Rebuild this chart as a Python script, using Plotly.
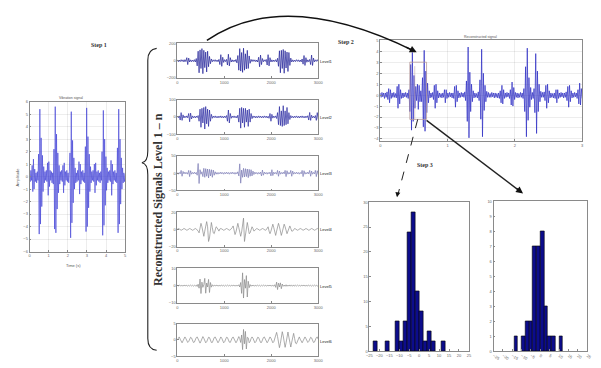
import plotly.graph_objects as go

W, H = 601, 368


def fx(px):
    return px / W


def fy(py):
    return 1 - py / H


# ---------------- data ----------------
# Step 1: raw vibration signal (amplitude), sampled over 0..5 s
raw_signal = [
    0.2, -0.4, 0.5, -0.3, 0.9, -1.2, 1.4, -1.0, 0.6, -0.4,
    0.3, -0.5, 0.4, -0.3, 1.8,
    -4.6, 5.4, -3.8, 3.1, -2.4, 1.7, -1.2, 0.8, -0.5, 0.4,
    -0.3, 0.5, -0.4, 1.1, -1.5, 1.2, -0.8, 0.5, -0.3, 0.4,
    -0.5, 0.3, -0.6, 2.2, -4.2,
    5.6, -4.5, 3.4, -2.6, 1.9, -1.3, 0.9, -0.6, 0.4, -0.3,
    0.5, -0.4, 0.9, -1.3, 1.1, -0.7, 0.4, -0.3, 0.5, -0.4,
    0.3, -0.5, 0.4, 1.9, -4.9, 5.2, -3.7, 2.9, -2.1, 1.5,
    -1.0, 0.7, -0.5, 0.3, -0.4, 0.5, -0.3, 1.2, -1.4, 1.0,
    -0.6, 0.4, -0.3, 0.5, -0.4, 0.3, -0.5, 2.4, -4.4, 5.5,
    -4.0, 3.2, -2.5, 1.8, -1.2, 0.8, -0.5, 0.4, -0.3, 0.5,
    -0.4, 1.0, -1.3, 1.1, -0.7, 0.4, -0.3, 0.5, -0.4, 0.3,
    -0.5, 0.4, -0.3, 2.0, -4.7, 5.3, -3.9, 3.0, -2.3, 1.6,
    -1.1, 0.7, -0.5, 0.4, -0.3, 0.5, -0.4, 1.3, -1.5, 1.0,
    -0.6, 0.4, -0.3, 0.5, -0.4, 0.3, -0.5, 2.3, -4.5, 5.4,
    -3.8, 3.0, -2.2, 1.5, -1.0, 0.7, -0.5, 0.3, -0.4, 0.2,
]

# Reconstructed signals, levels 1..6
level1 = [
    10, -12, 8, -10, 12, -8, 10, -14, 12, -10,
    35, -45, 30, -15,
    10, -12, 8, -10, 12, -15, 25,
    -60, 110, -140, 125, -90, 140, -150, 120, -80, 100, -130, 110, -70, 50, -35, 20, -12,
    10, -8, 12, -10, 8, -12, 15,
    -45, 70, -65, 40, -20,
    12, -10, 15,
    -50, 75, -60, 35, -15,
    10, -12, 8, -10, 14, -25,
    60, -110, 140, -120, 95, -135, 145, -110, 80, -95, 120, -90, 55, -30, 15,
    -10, 12, -8, 10, -12, 8, -15,
    40, -70, 65, -45, 25, -12,
    10, -8, 15,
    -50, 70, -60, 35, -15,
    10, -12, 8, -10, 12, -14, 28,
    -65, 115, -140, 120, -90, 130, -145, 115, -85, 100, -125, 95, -55, 30, -15,
    10, -12, 8, -10, 12, -8, 10, -12, 8, -14, 20,
    -40, 60, -55, 35, -18, 10,
    -12, 15,
    -45, 65, -55, 30, -14,
    10, -8, 12, -10,
]
level2 = [
    4, -5, 6,
    -18, 25, -20, 12, -6,
    5, -4, 6, -5,
    20, -28, 22, -12, 6,
    -5, 4, -6, 5, -4, 8,
    -25, 45, -60, 50, -35, 55, -70, 60, -40, 45, -55, 40, -25, 15, -8, 5,
    -4, 6, -5, 4, -6, 5, -4, 6, -5, 4, -6, 5, -4, 8,
    -25, 40, -35, 20, -8,
    5, -4, 6, -5, 4, -6, 10,
    -30, 50, -65, 55, -35, 50, -60, 50, -30, 40, -55, 45, -30, 20, -10, 6, -4, 5,
    -6, 4, -5, 6, -4, 5, -6, 4, -5, 6, -4, 5, -6, 4, -8,
    20, -25, 15, -7,
    5, -4, 6, -9,
    25, -45, 60, -50, 35, -55, 65, -50, 35, -45, 55, -40, 25, -15, 8, -5, 4,
    -6, 5, -4, 6, -5, 4, -6, 5, -4, 6, -5, 4, -6, 5, -4, 7,
    -18, 26, -20, 10, -5,
    4, -6, 8,
    -20, 25, -15,
]
level3 = [
    2, -3, 2, -2,
    8, -9, 5,
    -2, 3, -2, 2, -3,
    8, -10, 7, -3,
    2, -2, 3, -2, 2,
    -6, 28, -30, 10,
    -3, 4,
    -10, 14, -12, 13, -9, 12, -14, 11, -8, 10, -12, 9, -6, 4, -3,
    2, -3, 2, -2, 3, -2, 2, -3, 2, -2, 3, -2, 2, -3, 2, -2, 3, -2, 2, -3, 2, -2, 4,
    -8, 27, -29, 9,
    -12, 14, -11, 13, -10, 12, -13, 11, -9, 10, -8, 6, -4, 3,
    -2, 2, -3, 2, -2, 3,
    -8, 9, -6, 3,
    -2, 2, -3, 2, -2, 3,
    -8, 10, -7, 3,
    -2, 2, -3,
    8, -9, 6, -3,
    2, -2, 3, -2,
    8, -10, 7, -3,
    2, -2,
    8, -9, 6, -3,
    2, -2, 3, -2, 2, -3, 2, -2,
    8, -10, 7, -3,
    2, -2, 3, -2,
    8, -9, 6, -3,
    2, -2,
    8, -10, 7, -4,
]
level4 = [
    0.5, 1, 0.5, -0.5, -1, -0.5, 0.5, 1, 0.5, -0.5, -1, -0.5, 0.5, 1, 0.5, -0.5, -1, -0.5, 0.5, 1, 0.5, -0.5,
    -2, -4, 2, 7, 3, -6, -8, -2, 6, 9, 3, -14, -10, 5, 8, 2, -4,
    -5, -1, 3, 2, -1, -2, 0.5, 1, 0.5, -0.5, -1, -0.5, 0.5, 1, 0.5, -0.5, -1, -0.5, 0.5,
    2, 4, -2, -6, -3, 5, 7, 2, -5, -8, -3, 6, 13, -14, -6, 6, 8, 2, -5, -4, 1,
    3, 1, -2, -1, 0.5, 1, 0.5, -0.5, -1, -0.5, 0.5, 1, 0.5, -0.5, -1, -0.5, 1,
    3, -2, -5, -2, 4, 6, 2, -5, -7, -2, 5, 7, 3, -4, -7, -3, 4, 6, 3, -3, -5, -2, 3, 4, 1, -2, -2, 0.5,
    1, 0.5, -0.5, -1, -0.5, 0.5, 1, 0.5, -0.5, -1, -0.5, 0.5, 1, 0.5, -0.5, -1, -0.5, 0.5, 1, 0.5, -0.5, -1, -0.5, 0.5, 1, 0.5,
]
level5 = [
    0.2, -0.2, 0.3, -0.2, 0.2, -0.3, 0.2, -0.2, 0.3, -0.2, 0.2, -0.3, 0.2, -0.2, 0.3, -0.2, 0.2, -0.3, 0.2, -0.2, 0.3, -0.5, 0.8,
    -1.5, 3.8, -4.6, 2.0, -1.0, 0.5, 4.2, -4.4, 1.5, -0.8, 3.6, -4.0, 1.8, -0.9, 0.5, -0.3, 0.2,
    -0.2, 0.3, -0.2, 0.2, -0.3, 0.2, -0.2, 0.3, -0.2, 0.2, -0.3, 0.2, -0.2, 0.3, -0.2, 0.2, -0.3, 0.2, -0.2, 0.3, -0.2, 0.2, -0.3, 0.2, -0.2, 0.5, -0.8,
    1.8, -4.5, 7.4, -7.2, 3.5, -1.5, 5.8, -6.6, 2.5, -1.2, 0.6, -0.4, 0.3,
    -0.2, 0.2, -0.3, 0.2, -0.2, 0.3, -0.2, 0.2, -0.3, 0.2, -0.2, 0.3, -0.2, 0.2, -0.3, 0.2, -0.2, 0.3, -0.2, 0.2, -0.3, 0.2, -0.3, 0.5,
    -1.0, 2.0, -2.3, 1.4, -0.8, 1.6, -1.8, 0.9, -0.4,
    0.3, -0.4, 0.5, -0.4, 0.3, -0.3, 0.4, -0.3, 0.2, -0.3, 0.4, -0.3, 0.2, -0.2, 0.3, -0.2, 0.2, -0.3, 0.2,
    -0.2, 0.3, -0.2, 0.2, -0.3, 0.2, -0.2, 0.3, -0.2, 0.2, -0.3, 0.2, -0.2, 0.3, -0.2, 0.2, -0.3, 0.2,
]
level6 = [
    0, 0.7, 0.9, 0.2, -0.6, -0.9, -0.3, 0.5, 0.9, 0.4,
    -0.4, -0.8, -0.5, 0.3, 0.8, 0.6, -0.2, -0.8, -0.7, 0.1,
    0.7, 0.9, 0.2, -0.6, -1.0, -0.4, 0.5, 1.0, 0.5, -0.3,
    -0.9, -0.6, 0.2, 0.8, 0.7, -0.1, -0.8, -0.8, 0, 0.7,
    0.9, 0.3, -0.5, -0.9, -0.4, 0.4, 0.9, 0.5, -0.3, -0.9,
    -0.6, 0.2, 0.8, 0.7, -0.1, -0.7, -0.8, 0, 0.6, 0.9,
    0.3, -0.5, -0.9, -0.4, 0.5, 1.0, 0.4, -0.8, 1.5, -3.0, 3.2, -1.2, 2.6, -2.8, 0.8, 0.6, -0.9, -0.5, 0.4, 0.9,
    0.5, -0.3, -0.9, -0.6, 0.2, 0.8, 0.7, -0.1, -0.8, -0.8, 0, 0.7, 0.9, 0.3, -0.5, -0.9, -0.4, 0.4, 0.9, 0.5, -0.3, -0.9, -0.6, 0.3,
    1.2, 2.3, 1.0, -1.4, -2.4, -1.1, 1.3, 2.5, 1.2, -1.5, -2.3, -0.9, 1.6, 2.4, 0.8, -1.6, -2.2, -0.7, 1.4, 2.0, 0.5, -1.0,
    -1.2, -0.3, 0.6, 0.9, 0.2, -0.6, -0.9, -0.3, 0.5, 0.9, 0.4, -0.4, -0.8, -0.5, 0.3, 0.8, 0.6, -0.2, -0.8, -0.7, 0.1, 0.7, 0.9, 0.2,
]
levels = [level1, level2, level3, level4, level5, level6]
level_names = ["Level1", "Level2", "Level3", "Level4", "Level5", "Level6"]
level_limits = [200, 100, 50, 20, 10, 5]

# Step 2: selected reconstructed signal, 0..3 s
step2_signal = [
    0.2, -0.2, 0.25, -0.15, 0.2, -0.3, 0.2, -0.2, 0.3, -0.4,
    0.6, -0.7, 0.5, -0.3,
    0.2, -0.2, 0.25, -0.2, 0.15, -0.25,
    0.8, -1.2, 1.0, -0.8, 0.5, -0.3,
    0.2, -0.25, 0.2, -0.15, 0.25, -0.2, 0.2, -0.3, 0.5,
    -1.5, 2.8, -3.2, 3.9, -2.4, 1.8, -1.2, 0.8, -0.5,
    1.0, -1.3, 0.9, -0.6,
    0.4, -0.6,
    1.6, -2.9, 4.1, -3.3, 2.2, -1.6, 1.1, -0.7, 0.4,
    -0.25, 0.2, -0.2, 0.25, -0.4,
    0.9, -1.2, 1.0, -0.7, 0.4, -0.25,
    0.2, -0.2, 0.15, -0.25, 0.2, -0.2,
    0.5, -0.7, 0.5, -0.3, 0.2,
    -0.2, 0.25, -0.15, 0.2, -0.25, 0.2, -0.3,
    0.8, -1.1, 0.9, -0.6, 0.4, -0.25,
    0.2, -0.2, 0.25, -0.15, 0.2, -0.2, 0.3, -0.5,
    1.3, -2.4, 4.4, -3.9, 2.1, -1.5, 1.0, -0.6, 0.4,
    -0.25, 0.2, -0.2, 0.15, -0.25, 0.3, -0.5,
    1.4, -2.2, 4.2, -3.8, 2.0, -1.4, 0.9, -0.6, 0.35,
    -0.2, 0.25, -0.2, 0.15, -0.2, 0.25, -0.15, 0.2, -0.25, 0.2, -0.2, 0.15, -0.25, 0.2, -0.3, 0.4,
    -0.7, 0.9, -0.8, 0.5, -0.3, 0.2,
    -0.2, 0.25, -0.15, 0.2, -0.3, 0.5,
    -0.9, 1.2, -1.0, 0.7, -0.4, 0.25,
    -0.2, 0.2, -0.25, 0.15, -0.2, 0.25, -0.2, 0.2, -0.3, 0.6,
    -1.5, 2.6, -3.8, 4.3, -2.3, 1.6, -1.1, 0.7, -0.4,
    0.25, -0.3, 0.6,
    -1.6, 3.8, -3.5, 2.2, -1.5, 1.0, -0.6, 0.35,
    -0.2, 0.25, -0.2, 0.3, -0.5,
    0.9, -1.2, 1.0, -0.7, 0.4, -0.25,
    0.2, -0.2, 0.15, -0.25, 0.2, -0.3,
    0.5, -0.7, 0.5, -0.3, 0.2,
    -0.2, 0.25, -0.15, 0.2, -0.25, 0.2, -0.2, 0.3, -0.5,
    0.8, -1.1, 0.9, -0.6, 0.4, -0.25,
    0.2, -0.2, 0.25, -0.15, 0.2, -0.3, 0.5,
    -0.8, 1.1, -0.9, 0.6, -0.3,
]

# Step 3: histograms of the selected segment
hist1_centers = [-22, -16, -11, -9, -7, -5, -3, -1, 1, 3, 5, 7, 12]
hist1_counts = [2, 2, 6, 2, 6, 24, 28, 12, 8, 2, 4, 2, 2]
hist2_centers = [-13, -9, -7, -5, -3, -1, 1, 3, 5, 7, 11]
hist2_counts = [1, 1, 2, 2, 7, 7, 8, 3, 1, 1, 1]
hist_ticks = [-25, -20, -15, -10, -5, 0, 5, 10, 15, 20, 25]

# ---------------- layout helpers ----------------
TICKFONT = dict(size=4, color="#666", family="Liberation Sans")
GRID = "rgba(0,0,0,0.07)"

fig = go.Figure()
layout = dict(
    width=W, height=H, margin=dict(l=0, r=0, t=0, b=0),
    paper_bgcolor="white", plot_bgcolor="white", showlegend=False,
    bargap=0,
)


def axis_pair(idx, box, xr, yr, xticks, yticks, xtext=None, ytext=None, grid=True):
    x0, x1, y0, y1 = box
    xs = "" if idx == 1 else str(idx)
    common = dict(showline=True, mirror=True, linecolor="#8a8a8a", linewidth=0.8,
                  ticks="inside", ticklen=2, tickwidth=0.5, tickcolor="#888",
                  tickfont=TICKFONT, zeroline=False, showgrid=grid,
                  gridcolor=GRID, gridwidth=0.5, fixedrange=True)
    xa = dict(common, domain=[fx(x0), fx(x1)], anchor="y" + xs, range=xr,
              tickvals=xticks)
    ya = dict(common, domain=[fy(y1), fy(y0)], anchor="x" + xs, range=yr,
              tickvals=yticks)
    if xtext is not None:
        xa["ticktext"] = xtext
    if ytext is not None:
        ya["ticktext"] = ytext
    layout["xaxis" + xs] = xa
    layout["yaxis" + xs] = ya
    return "x" + xs, "y" + xs


# Step 1 panel
xa, ya = axis_pair(1, (27, 124, 100, 252), [0, 5], [-6, 6],
                   [0, 1, 2, 3, 4, 5], list(range(-6, 7)))
fig.add_trace(go.Scatter(y=raw_signal, x0=0, dx=5 / (len(raw_signal) - 1),
                         mode="lines", line=dict(color="rgba(70,70,215,0.85)", width=0.8),
                         xaxis=xa, yaxis=ya))

# Level panels
tops = [41, 98, 155, 212, 269, 325]
level_colors = ["#1e1e96", "#2626a0", "#7a7ab4", "#8a8a8a", "#8a8a8a", "#8a8a8a"]
for k, (sig, lim, top) in enumerate(zip(levels, level_limits, tops)):
    idx = k + 2
    bottom = top + (35 if k < 5 else 33)
    xa, ya = axis_pair(idx, (177, 320, top, bottom), [0, 3000], [-lim, lim],
                       [0, 1000, 2000, 3000], [-lim, 0, lim],
                       grid=False)
    fig.add_trace(go.Scatter(y=sig, x0=0, dx=3000 / (len(sig) - 1), mode="lines",
                             line=dict(color=level_colors[k], width=0.7),
                             xaxis=xa, yaxis=ya))

# Step 2 panel
xa, ya = axis_pair(8, (383, 588, 38, 140), [0, 3], [-4.2, 5],
                   [0, 1, 2, 3], list(range(-4, 6)))
fig.add_trace(go.Scatter(y=step2_signal, x0=0, dx=3 / (len(step2_signal) - 1),
                         mode="lines", line=dict(color="rgba(45,45,195,0.9)", width=0.8),
                         xaxis=xa, yaxis=ya))

# Step 3 histograms
xa, ya = axis_pair(9, (372, 473, 202, 353), [-25, 25], [0, 30],
                   hist_ticks, [0, 5, 10, 15, 20, 25, 30], grid=False)
fig.add_trace(go.Bar(x=hist1_centers, y=hist1_counts, width=2,
                     marker=dict(color="#0c0c8c", line=dict(color="black", width=0.6)),
                     xaxis=xa, yaxis=ya))
xa, ya = axis_pair(10, (498, 593, 201, 353), [-25, 25], [0, 10],
                   hist_ticks, list(range(0, 11)), grid=False)
fig.add_trace(go.Bar(x=hist2_centers, y=hist2_counts, width=2,
                     marker=dict(color="#0c0c8c", line=dict(color="black", width=0.6)),
                     xaxis=xa, yaxis=ya))

# ---------------- decorations ----------------
def path(cmds):
    out = []
    for c in cmds:
        if isinstance(c, str):
            out.append(c)
        else:
            out.append(f"{fx(c[0]):.5f},{fy(c[1]):.5f}")
    return " ".join(out)


shapes = []
# brace grouping the level panels
shapes.append(dict(type="path", xref="paper", yref="paper",
                   path=path(["M", (156, 46), "Q", (147, 47), (147, 58), "L", (147, 150),
                              "Q", (147, 161), (141, 162), "Q", (147, 163), (147, 174),
                              "L", (147, 340), "Q", (147, 351), (156, 352)]),
                   line=dict(color="#222", width=1.1)))
# curved arrow from level 1 to the step 2 panel
shapes.append(dict(type="path", xref="paper", yref="paper",
                   path=path(["M", (207, 38), "Q", (286, -16), (418, 49)]),
                   line=dict(color="#111", width=1.5)))
# highlighted segment
shapes.append(dict(type="rect", xref="paper", yref="paper",
                   x0=fx(413), x1=fx(430), y0=fy(118), y1=fy(60),
                   line=dict(color="#b89a9a", width=0.8)))
shapes.append(dict(type="line", xref="paper", yref="paper",
                   x0=fx(418), x1=fx(418), y0=fy(118), y1=fy(64),
                   line=dict(color="#c4aaaa", width=0.6)))
# links to the histograms
shapes.append(dict(type="line", xref="paper", yref="paper",
                   x0=fx(421), y0=fy(118), x1=fx(401), y1=fy(194),
                   line=dict(color="#222", width=1, dash="dash")))
shapes.append(dict(type="line", xref="paper", yref="paper",
                   x0=fx(430), y0=fy(119), x1=fx(525), y1=fy(191),
                   line=dict(color="#222", width=1.4)))
layout["shapes"] = shapes

ann = []


def text(x, y, s, size=5, color="#333", angle=0, bold=False, family="Liberation Serif"):
    ann.append(dict(x=fx(x), y=fy(y), xref="paper", yref="paper", text=(f"<b>{s}</b>" if bold else s),
                    showarrow=False, textangle=angle,
                    font=dict(size=size, color=color, family=family),
                    xanchor="center", yanchor="middle"))


def arrow(x, y, ax, ay, width=1.4):
    ann.append(dict(x=fx(x), y=fy(y), xref="paper", yref="paper", text="",
                    showarrow=True, ax=ax, ay=ay, arrowhead=2, arrowsize=1,
                    arrowwidth=width, arrowcolor="#111"))


arrow(420, 50, -12, -6)
arrow(528, 193, -8, -6)
arrow(400, 197, 1, -6, width=1)

text(97, 43, "Step 1", size=6, bold=True)
text(348, 40, "Step 2", size=6, bold=True)
text(428, 164, "Step 3", size=6, bold=True)
text(158, 199, "Reconstructed Signals Level 1 \u2013 n", size=12, color="#333",
     angle=-90, bold=True)
text(69, 96, "Vibration signal", size=3.5, color="#555", family="Liberation Sans")
text(72, 266, "Time (s)", size=4, color="#555", family="Liberation Sans")
text(15, 176, "Amplitude", size=4, color="#555", angle=-90, family="Liberation Sans")
text(485, 34, "Reconstructed signal", size=3.5, color="#555", family="Liberation Sans")
for name, top in zip(level_names, tops):
    text(328, top + 18, name, size=4, color="#222", family="Liberation Sans")
layout["annotations"] = ann

fig.update_layout(**layout)
fig.write_html("out.html")
